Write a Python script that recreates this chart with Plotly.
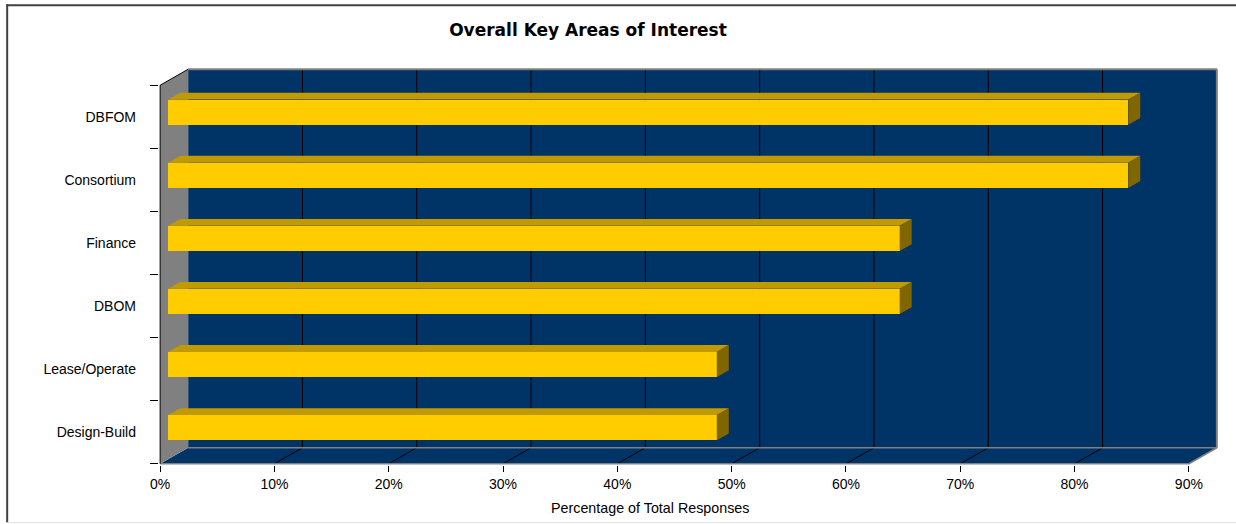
import plotly.graph_objects as go

# ---- data (top to bottom as shown) ----
categories = ["DBFOM", "Consortium", "Finance", "DBOM", "Lease/Operate", "Design-Build"]
values = [84, 84, 64, 64, 48, 48]
x_tick_vals = [0, 10, 20, 30, 40, 50, 60, 70, 80, 90]
x_tick_text = ["0%", "10%", "20%", "30%", "40%", "50%", "60%", "70%", "80%", "90%"]
title_text = "Overall Key Areas of Interest"
x_title = "Percentage of Total Responses"

# ---- geometry / style ----
W, H = 1236, 524
XMAX = 90
N = len(categories)
X0PX, Y0PX = 160, 464          # pixel of (0%, bottom of front plane)
PXX = (1189 - 160) / 90.0      # px per percent
PXY = (464 - 85) / 6.0         # px per category
DX = 28 / PXX                  # depth offset in x units
DY = 16 / PXY                  # depth offset in y units
F0, F1 = 8 / 28, 20 / 28       # bar depth position (front / back)
BARW = 0.4

NAVY = "#003366"
GRAY = "#808080"
FRONT = "#FFCC00"
TOP = "#C09A00"
SIDE = "#806600"

xr = [-0.1, XMAX + DX + 0.1]
yr = [-0.02, N + DY + 0.02]
ml = X0PX + xr[0] * PXX
pw = (xr[1] - xr[0]) * PXX
mr = W - ml - pw
mb = H - (Y0PX - yr[0] * PXY)
ph = (yr[1] - yr[0]) * PXY
mt = H - mb - ph

fig = go.Figure()


def path_of(xs, ys):
    d = "M %f,%f " % (xs[0], ys[0])
    for x, y in zip(xs[1:], ys[1:]):
        d += "L %f,%f " % (x, y)
    return d + "Z"


def wall(xs, ys, color):
    fig.add_shape(type="path", xref="x", yref="y", path=path_of(xs, ys),
                  fillcolor=color, line=dict(width=0), layer="below")


def edge(x0, y0, x1, y1, color, width=1):
    fig.add_shape(type="line", xref="x", yref="y", x0=x0, y0=y0, x1=x1, y1=y1,
                  line=dict(color=color, width=width), layer="below")


def poly(xs, ys, color):
    fig.add_trace(go.Scatter(x=xs + [xs[0]], y=ys + [ys[0]], mode="lines", fill="toself",
                             fillcolor=color, line=dict(width=0), hoverinfo="skip",
                             showlegend=False))


# back wall, floor, left wall
wall([DX, XMAX + DX, XMAX + DX, DX], [DY, DY, N + DY, N + DY], NAVY)
wall([0, XMAX, XMAX + DX, DX], [0, 0, DY, DY], NAVY)
wall([0, 0, DX, DX], [0, N, N + DY, DY], GRAY)

# gridlines on wall and floor
for v in x_tick_vals[1:-1]:
    edge(v + DX, DY, v + DX, N + DY, "#000000", 1)
    edge(v, 0, v + DX, DY, "#000000", 1)

# edges
edge(DX, N + DY, XMAX + DX, N + DY, GRAY, 2)
edge(XMAX + DX, N + DY, XMAX + DX, DY, GRAY, 2)
edge(DX, DY, XMAX + DX, DY, GRAY, 1.5)
edge(0, 0, XMAX, 0, GRAY, 1.5)
edge(XMAX, 0, XMAX + DX, DY, GRAY, 1.5)
edge(0, 0, 0, N, "#000000", 1)
edge(0, N, DX, N + DY, "#000000", 1)

# bars: front faces via Bar trace
ypos = [N - 1 - k + 0.5 for k in range(N)]
fig.add_trace(go.Bar(orientation="h", x=values, base=F0 * DX,
                     y=[p + F0 * DY for p in ypos], width=BARW,
                     marker=dict(color=FRONT, line=dict(width=0)),
                     hoverinfo="skip", showlegend=False))
# top and side faces
for v, p in zip(values, ypos):
    top = p + BARW / 2
    bot = p - BARW / 2
    poly([F0 * DX, v + F0 * DX, v + F1 * DX, F1 * DX],
         [top + F0 * DY, top + F0 * DY, top + F1 * DY, top + F1 * DY], TOP)
    poly([v + F0 * DX, v + F0 * DX, v + F1 * DX, v + F1 * DX],
         [bot + F0 * DY, top + F0 * DY, top + F1 * DY, bot + F1 * DY], SIDE)


def px_to_paper_x(px):
    return (px - ml) / pw


def px_to_paper_y(py):
    return (H - mb - py) / ph


# chart border (left/top dark, bottom light)
fig.add_shape(type="line", xref="paper", yref="paper",
              x0=px_to_paper_x(7), x1=px_to_paper_x(7), y0=px_to_paper_y(4), y1=px_to_paper_y(523),
              line=dict(color="#404040", width=2))
fig.add_shape(type="line", xref="paper", yref="paper",
              x0=px_to_paper_x(6), x1=px_to_paper_x(1240), y0=px_to_paper_y(5), y1=px_to_paper_y(5),
              line=dict(color="#404040", width=2))
fig.add_shape(type="line", xref="paper", yref="paper",
              x0=px_to_paper_x(6), x1=px_to_paper_x(1240), y0=px_to_paper_y(523), y1=px_to_paper_y(523),
              line=dict(color="#E0E0E0", width=1))

# axis title as annotation (centred like the original)
fig.add_annotation(text=x_title, xref="paper", yref="paper",
                   x=px_to_paper_x(650), y=px_to_paper_y(508), xanchor="center", yanchor="middle",
                   showarrow=False, font=dict(family="Liberation Sans, Arial", size=14.3, color="#000000"))

fig.update_layout(
    width=W, height=H,
    margin=dict(l=ml, r=mr, t=mt, b=mb, pad=0),
    paper_bgcolor="white", plot_bgcolor="white",
    bargap=0,
    title=dict(text="<b>" + title_text + "</b>", xref="container", yref="container",
               x=588 / W, y=1 - 30 / H, xanchor="center", yanchor="middle",
               font=dict(family="DejaVu Sans", size=17, color="#000000")),
    font=dict(family="Liberation Sans, Arial", size=14, color="#000000"),
    xaxis=dict(range=xr, tickmode="array", tickvals=x_tick_vals, ticktext=x_tick_text,
               ticks="outside", ticklen=6, tickcolor="#000000", tickwidth=1,
               showgrid=False, zeroline=False, showline=False, fixedrange=True),
    yaxis=dict(range=yr, tickmode="array", tickvals=ypos, ticktext=categories,
               ticks="", ticklabelstandoff=22,
               minor=dict(tickmode="linear", tick0=0, dtick=1, ticks="outside", ticklen=8,
                          tickcolor="#000000", tickwidth=1, showgrid=False),
               showgrid=False, zeroline=False, showline=False, fixedrange=True),
)

fig.write_html("out.html")
